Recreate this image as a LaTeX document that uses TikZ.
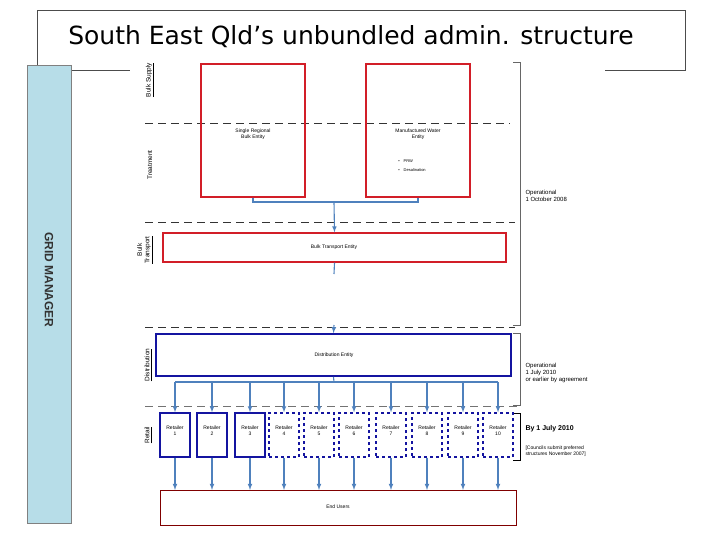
\documentclass[tikz,border=0pt]{standalone}
\usepackage{fontspec}
\setmainfont{Liberation Sans}
\newfontfamily\titlefont{DejaVu Sans}
\definecolor{cblue}{RGB}{79,129,189}
\definecolor{bred}{RGB}{210,30,40}
\definecolor{dblue}{RGB}{20,20,160}
\definecolor{gridc}{RGB}{183,221,232}
\begin{document}
\begin{tikzpicture}[x=1pt,y=-1pt,
  tiny/.style={font=\fontsize{5}{6}\selectfont,align=center},
  side/.style={font=\fontsize{6}{7}\selectfont,align=left,anchor=west},
  lbl/.style={font=\fontsize{6.5}{7.5}\selectfont,rotate=90,align=center},
  redbox/.style={draw=bred,line width=1.2pt},
  conn/.style={draw=cblue,line width=1.1pt},
  arr/.style={conn,-latex},
  sep/.style={dashed,dash pattern=on 8pt off 5pt,line width=0.9pt,black!80},
  brk/.style={draw=black!60,line width=1pt}]
\useasboundingbox (0,0) rectangle (720,540);
% title frame
\draw[black!70] (37,70) -- (37,10) -- (685,10) -- (685,70) -- (605,70);
\draw[black!70] (37,70) -- (130,70);
\node (title) at (351,37) {\titlefont\fontsize{25}{29}\selectfont South East Qld’s unbundled admin. structure};
% grid manager
\node (grid) [draw=black!50,fill=gridc,minimum width=44pt,minimum height=458pt,inner sep=0pt] at (49,294) {};
\node (gridt) at (49,280) [rotate=-90,font=\fontsize{12}{14}\selectfont\bfseries,text=black!80] {GRID MANAGER};
% side labels
\node (lbs) at (150,80) [lbl] {\underline{Bulk Supply}};
\node (ltr) at (150,165) [lbl] {Treatment};
\node (lbt) at (145,250) [lbl] {Bulk\\\underline{Transport}};
\node (ldi) at (148,365) [lbl] {\underline{Distribution}};
\node (lre) at (148,435) [lbl] {\underline{Retail}};
% separators
\draw[sep] (145,123) -- (510,123);
\draw[sep] (145,222) -- (515,222);
\draw[sep] (145,327) -- (515,327);
\draw[sep,black!55] (145,406) -- (520,406);
% bulk boxes
\node (sr) [redbox,minimum width=104pt,minimum height=133pt,inner sep=0pt] at (253,130.5) {};
\node (srt) at (253,134) [tiny] {Single Regional\\Bulk Entity};
\node (mw) [redbox,line width=1.8pt,minimum width=104pt,minimum height=133pt,inner sep=0pt] at (418,130.5) {};
\node (mwt) at (418,134) [tiny] {Manufactured Water\\Entity};
\node (mwl) at (412,166) [font=\fontsize{4}{9}\selectfont,align=left] {\textbullet\quad PRW\\\textbullet\quad Desalination};
\coordinate (j1) at (253,202);
\coordinate (j2) at (418,202);
\coordinate (jm) at (334,202);
\draw[conn] (sr.south) -- (j1) -- (j2) -- (mw.south);
% bulk transport
\node (bt) [redbox,minimum width=343pt,minimum height=29pt,inner sep=0pt] at (334.5,247.5) {};
\node (btt) at (334,247) [tiny] {Bulk Transport Entity};
\draw[arr] (jm) -- (bt.north);
\coordinate (bt2) at (334,274);
\draw[conn] (bt.south) -- (bt2);
% distribution
\node (de) [draw=dblue,line width=1.6pt,minimum width=355pt,minimum height=42pt,inner sep=0pt] at (333.5,355) {};
\node (det) at (334,355) [tiny] {Distribution Entity};
\coordinate (dtop) at (334,325);
\draw[arr] (dtop) -- (de.north);
% brackets
\draw[brk] (513,63) -- (520,63) -- (520,325) -- (513,325);
\draw[brk] (513,333) -- (520,333) -- (520,405) -- (513,405);
\draw[brk,black] (513,413) -- (520,413) -- (520,460) -- (513,460);
\node (op1) at (522,196) [side] {Operational\\1 October 2008};
\node (op2) at (522,373) [side] {Operational\\1 July 2010\\or earlier by agreement};
\node (by) at (522,429) [side,font=\fontsize{7}{8}\selectfont\bfseries] {By 1 July 2010};
\node (cs) at (522,451) [side,font=\fontsize{5}{6}\selectfont] {[Councils submit preferred\\structures November 2007]};
% end users
\node (eu) [draw=red!50!black,line width=1pt,minimum width=356pt,minimum height=35pt,inner sep=0pt] at (338,507.5) {};
\node (eut) at (338,507) [tiny] {End Users};
% retailers
\coordinate (bus) at (334,382);
\draw[conn] (de.south) -- (bus);
\draw[conn] (175,382) -- (498,382);
\foreach \i/\x/\s in {1/175/solid,2/212/solid,3/250/solid,4/284/dashed,5/319/dashed,6/354/dashed,7/391/dashed,8/427/dashed,9/463/dashed,10/498/dashed}{
  \node (r\i) [draw=dblue,line width=1.3pt,\s,minimum width=30pt,minimum height=44pt,inner sep=0pt] at (\x,435) {};
  \node (rt\i) at (\x,431) [tiny] {Retailer\\\i};
  \coordinate (b\i) at (\x,382);
  \coordinate (e\i) at (\x,490);
  \draw[arr] (b\i) -- (r\i.north);
  \draw[arr] (r\i.south) -- (e\i);
}
\end{tikzpicture}
\end{document}
